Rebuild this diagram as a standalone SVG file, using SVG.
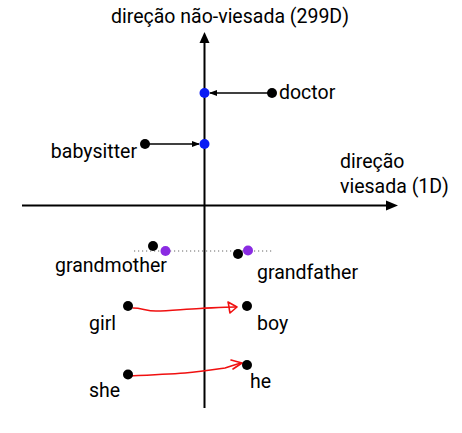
<svg xmlns="http://www.w3.org/2000/svg" width="462" height="433" viewBox="0 0 462 433">
<style>
text{font-family:Roboto,"Liberation Sans",sans-serif;font-size:19.5px;fill:#000}
.ax{stroke:#000;stroke-width:2;fill:none}
.dot{fill:#000}
.blue{fill:#0a1cf5}
.pur{fill:#8a2be2}
.red{stroke:#f01010;stroke-width:1.6;fill:none;stroke-linecap:round;stroke-linejoin:round}
.arr{stroke:#000;stroke-width:1.5;fill:none}
</style>
<defs>
<marker id="sh" markerWidth="8" markerHeight="8" refX="7" refY="4" orient="auto" markerUnits="userSpaceOnUse">
<path d="M0,1 L8,4 L0,7 Z" fill="#000"/>
</marker>
</defs>
<g id="axes">
<line class="ax" x1="204.5" y1="408" x2="204.5" y2="42"/>
<path d="M204.5,32 L199.5,43 L209.5,43 Z" fill="#000"/>
<line class="ax" x1="22" y1="205.5" x2="387" y2="205.5"/>
<path d="M398,205.5 L386,200.5 L386,210.5 Z" fill="#000"/>
<text x="230" y="23" text-anchor="middle">direção não-viesada (299D)</text>
<text x="340" y="168">direção</text>
<text x="340" y="193">viesada (1D)</text>
</g>
<g id="connectors">
<line class="arr" x1="272" y1="93" x2="210" y2="93" marker-end="url(#sh)"/>
<line class="arr" x1="145" y1="144" x2="199" y2="144" marker-end="url(#sh)"/>
<line x1="134" y1="251" x2="272" y2="251" stroke="#666" stroke-width="1" stroke-dasharray="1.2,2.8"/>
<path class="red" d="M133,308 C142,308 146,311 156,311 C170,311 185,309 200,308.5 C212,308 222,307 236,307"/>
<path class="red" d="M228,302 L237,307 L230,313 C229,309 229,305 228,302"/>
<path class="red" d="M129,376 C150,375 170,374 185,373 C200,372 212,370 225,368 C232,366 236,364 242,363"/>
<path class="red" d="M231,360 L242,363 L233,369"/>
</g>
<g id="doctor">
<circle class="blue" cx="204.5" cy="93" r="5"/>
<circle class="dot" cx="272" cy="93" r="5"/>
<text x="279" y="99">doctor</text>
</g>
<g id="babysitter">
<circle class="blue" cx="204.5" cy="144" r="5"/>
<circle class="dot" cx="145" cy="144" r="5"/>
<text x="137" y="158" text-anchor="end">babysitter</text>
</g>
<g id="grandmother">
<circle class="dot" cx="153" cy="246" r="5"/>
<circle class="pur" cx="165.5" cy="251" r="5"/>
<text x="55" y="272">grandmother</text>
</g>
<g id="grandfather">
<circle class="dot" cx="238" cy="254" r="5"/>
<circle class="pur" cx="248" cy="250.5" r="5"/>
<text x="257" y="279">grandfather</text>
</g>
<g id="girl">
<circle class="dot" cx="128" cy="306" r="5"/>
<text x="89" y="330">girl</text>
</g>
<g id="boy">
<circle class="dot" cx="247" cy="306" r="5"/>
<text x="257" y="330">boy</text>
</g>
<g id="she">
<circle class="dot" cx="128" cy="374.5" r="5"/>
<text x="89" y="397">she</text>
</g>
<g id="he">
<circle class="dot" cx="247" cy="365" r="5"/>
<text x="250" y="388">he</text>
</g>
</svg>
